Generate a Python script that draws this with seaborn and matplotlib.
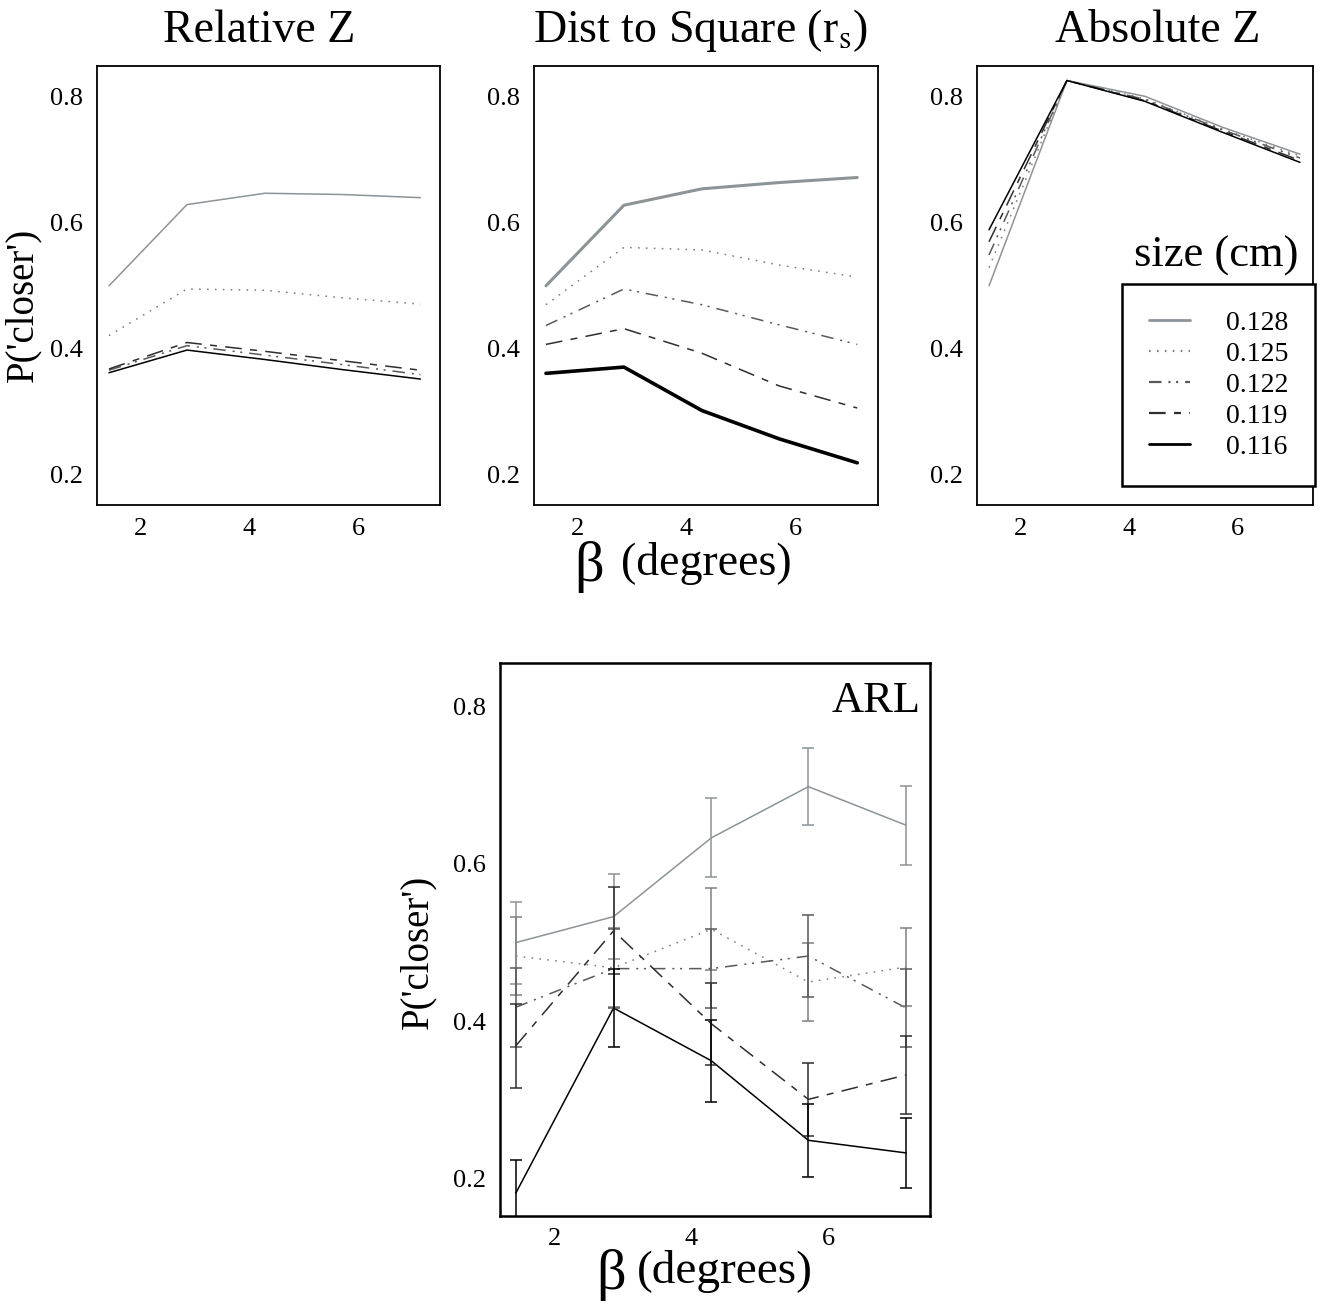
import matplotlib
matplotlib.use('Agg')
import matplotlib.pyplot as plt
import seaborn as sns
from pandas import DataFrame

# beta (degrees) and stimulus sizes (cm)
beta = [1.43, 2.86, 4.29, 5.71, 7.14]
sizes = ['0.128', '0.125', '0.122', '0.119', '0.116']

# model predictions, one row per size (same order as sizes)
rel_z = [[0.500, 0.629, 0.647, 0.645, 0.640],
         [0.421, 0.495, 0.493, 0.481, 0.471],
         [0.366, 0.405, 0.390, 0.375, 0.359],
         [0.368, 0.410, 0.396, 0.381, 0.366],
         [0.362, 0.398, 0.383, 0.367, 0.352]]

dist_sq = [[0.500, 0.628, 0.654, 0.664, 0.672],
           [0.470, 0.561, 0.557, 0.533, 0.514],
           [0.437, 0.495, 0.470, 0.438, 0.407],
           [0.407, 0.432, 0.393, 0.341, 0.306],
           [0.361, 0.371, 0.302, 0.257, 0.219]]

abs_z = [[0.500, 0.826, 0.801, 0.752, 0.709],
         [0.529, 0.826, 0.797, 0.749, 0.706],
         [0.549, 0.826, 0.796, 0.748, 0.703],
         [0.570, 0.826, 0.794, 0.746, 0.699],
         [0.589, 0.826, 0.793, 0.744, 0.696]]

# observed data (ARL) with error bars
arl = [[0.500, 0.533, 0.633, 0.698, 0.649],
       [0.483, 0.468, 0.517, 0.450, 0.469],
       [0.418, 0.467, 0.467, 0.483, 0.417],
       [0.369, 0.515, 0.397, 0.301, 0.332],
       [0.182, 0.417, 0.350, 0.249, 0.233]]
arl_err = [[0.052, 0.054, 0.050, 0.049, 0.050],
           [0.050, 0.050, 0.052, 0.050, 0.050],
           [0.050, 0.050, 0.050, 0.052, 0.050],
           [0.053, 0.055, 0.052, 0.046, 0.049],
           [0.042, 0.050, 0.052, 0.046, 0.044]]

palette = {'0.128': '#8d9497', '0.125': '#808080', '0.122': '#595959',
           '0.119': '#2e2e2e', '0.116': '#000000'}
dashes = {'0.128': '', '0.125': (1.2, 4.5), '0.122': (9, 5, 1.5, 4, 1.5, 5),
          '0.119': (12, 6, 5, 6), '0.116': ''}


def long_form(rows):
    recs = []
    for s, vals in zip(sizes, rows):
        for b, v in zip(beta, vals):
            recs.append({'beta': b, 'p': v, 'size': s})
    return DataFrame(recs)


sns.set_style('white', {'text.color': 'black', 'axes.labelcolor': 'black',
                        'xtick.color': 'black', 'ytick.color': 'black'})
plt.rcParams['font.family'] = ['Liberation Serif', 'DejaVu Serif']
plt.rcParams['mathtext.fontset'] = 'stix'
plt.rcParams['lines.scale_dashes'] = False

fig = plt.figure(figsize=(13.23, 13.10), dpi=100)
ax1 = fig.add_axes([0.0733, 0.6145, 0.2593, 0.3351])
ax2 = fig.add_axes([0.4036, 0.6145, 0.2600, 0.3351])
ax3 = fig.add_axes([0.7385, 0.6145, 0.2540, 0.3351])
ax4 = fig.add_axes([0.3780, 0.0718, 0.3250, 0.4221])


def style_axes(ax, spine_lw):
    for sp in ax.spines.values():
        sp.set_visible(True)
        sp.set_linewidth(spine_lw)
        sp.set_color('black')
    ax.set_xticks([2, 4, 6])
    ax.set_yticks([0.2, 0.4, 0.6, 0.8])
    ax.set_yticklabels(['0.2', '0.4', '0.6', '0.8'])
    ax.tick_params(axis='x', direction='in', length=4, width=1, pad=9, labelsize=19)
    ax.tick_params(axis='y', direction='in', length=7, width=1, pad=10, labelsize=19)
    ax.set_xlabel('')
    ax.set_ylabel('')


thin = {s: 1.1 for s in sizes}
thick = {'0.128': 2.2, '0.125': 1.1, '0.122': 1.1, '0.119': 1.1, '0.116': 2.6}

panels = [(ax1, rel_z, 'Relative Z', thin, (1.21, 7.5), 0.474),
          (ax2, dist_sq, r'Dist to Square (r$_{\mathrm{s}}$)', thick, (1.21, 7.52), 0.485),
          (ax3, abs_z, 'Absolute Z', thin, (1.21, 7.38), 0.539)]

for ax, rows, title, lws, xlim, tx in panels:
    sns.lineplot(data=long_form(rows), x='beta', y='p', hue='size', style='size', size='size',
                 hue_order=sizes, style_order=sizes, size_order=sizes,
                 palette=palette, dashes=dashes, sizes=lws, ax=ax, legend=(ax is ax3))
    style_axes(ax, 1.3)
    ax.set_xlim(*xlim)
    ax.set_ylim(0.152, 0.849)
    ax.set_title(title, fontsize=33, pad=17, x=tx)

ax1.set_ylabel("P('closer')", fontsize=28, labelpad=6)
ax1.yaxis.label.set_y(0.455)
ax2.set_xlabel('(degrees)', fontsize=33, labelpad=2)
ax2.annotate('β', xy=(0, 0.5), xycoords=ax2.xaxis.label, xytext=(-12, -2),
             textcoords='offset points', ha='right', va='center', fontsize=42)

# legend for panel 3, title drawn above the frame
leg = ax3.get_legend()
handles = leg.legend_handles
labels = [t.get_text() for t in leg.get_texts()]
for h in handles:
    h.set_linewidth(2.0 if h.get_linestyle() == '-' else 1.6)
ax3.legend(handles, labels, loc='upper right', bbox_to_anchor=(1.006, 0.503),
           borderaxespad=0, fontsize=20, frameon=True, fancybox=False, framealpha=1,
           edgecolor='black', handlelength=1.5, handletextpad=1.3, labelspacing=0.2,
           borderpad=0.95)
ax3.get_legend().get_frame().set_linewidth(1.8)
ax3.text(0.711, 0.567, 'size (cm)', transform=ax3.transAxes, ha='center', va='center',
         fontsize=32)

# bottom panel: observed data
df_arl = long_form(arl)
sns.lineplot(data=df_arl, x='beta', y='p', hue='size', style='size', size='size',
             hue_order=sizes, style_order=sizes, size_order=sizes,
             palette=palette, dashes=dashes, sizes=thin, ax=ax4, legend=False)
for s, vals, errs in zip(sizes, arl, arl_err):
    ax4.errorbar(beta, vals, yerr=errs, fmt='none', ecolor=palette[s], elinewidth=1.1,
                 capsize=4, capthick=1.1)
style_axes(ax4, 1.8)
ax4.set_xlim(1.2, 7.49)
ax4.set_ylim(0.153, 0.855)
ax4.text(0.977, 0.967, 'ARL', transform=ax4.transAxes, ha='right', va='top', fontsize=32)
ax4.set_ylabel("P('closer')", fontsize=28, labelpad=12)
ax4.yaxis.label.set_y(0.478)
ax4.set_xlabel('(degrees)', fontsize=34, labelpad=0)
ax4.xaxis.label.set_x(0.523)
ax4.annotate('β', xy=(0, 0.5), xycoords=ax4.xaxis.label, xytext=(-8, -2),
             textcoords='offset points', ha='right', va='center', fontsize=42)

fig.savefig('out.png', dpi=100)
